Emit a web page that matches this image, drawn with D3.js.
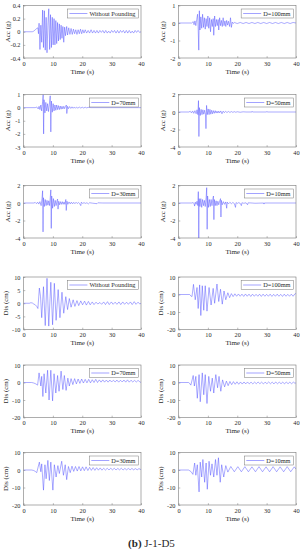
<!DOCTYPE html>
<html>
<head>
<meta charset="utf-8">
<script src="https://cdn.jsdelivr.net/npm/d3@7"></script>
<style>
  body { margin: 0; background: #fff; }
  text { font-family: "Liberation Serif", "Times New Roman", serif; fill: #2a2a2a; }
</style>
</head>
<body>
<div id="chart"></div>
<script>
// --- data: [time (s), value] vertices ---
var accWithout = [[0,0],[3.0,0],[3.5,0.01],[4.0,0.03],[4.5,0.05],[4.9,0.06],[5.1,-0.03],[5.3,0.13],[5.6,-0.27],[5.9,0.1],[6.2,-0.16],[6.5,0.33],[6.8,-0.24],[7.1,0.32],[7.4,-0.28],[7.7,0.22],[8.0,-0.32],[8.3,0.1],[8.6,0.35],[8.9,-0.27],[9.2,0.26],[9.5,-0.24],[9.8,0.22],[10.1,-0.2],[10.4,0.2],[10.7,-0.2],[11.0,0.17],[11.3,-0.18],[11.6,0.14],[11.9,-0.14],[12.2,0.12],[12.5,-0.12],[12.8,0.1],[13.1,-0.1],[13.4,0.08],[13.7,-0.16],[14.0,0.07],[14.3,-0.06],[14.7,0.08],[15.0,-0.05],[15.4,0.06],[15.8,-0.04],[16.2,0.05],[16.6,-0.04],[17.0,0.04],[17.4,-0.03],[17.8,0.03],[18.2,-0.04],[18.6,0.03],[19.0,-0.03],[19.4,0.04],[19.8,-0.03],[20.2,0.03],[20.6,-0.02],[21.0,0.03],[21.5,-0.02],[22.0,0.02],[22.5,-0.02],[23.0,0.03],[23.5,-0.02],[24.0,0.02],[24.5,-0.02],[25.0,0.02],[25.5,-0.02],[26.0,0.02],[26.5,-0.01],[27.0,0.02],[27.5,-0.02],[28.0,0.02],[28.5,-0.02],[29.0,0.01],[29.5,-0.02],[30.0,0.02],[30.5,-0.01],[31.0,0.02],[31.5,-0.02],[32.0,0.02],[32.5,-0.02],[33.0,0.02],[33.5,-0.01],[34.0,0.02],[34.5,-0.02],[35.0,0.02],[35.5,-0.02],[36.0,0.02],[36.5,-0.02],[37.0,0.01],[37.5,-0.02],[38.0,0.02],[38.5,-0.01],[39.0,0.02],[39.5,-0.01],[40.0,0]];

var accD100 = [[0,0],[4.5,0],[5.0,0.08],[5.3,-0.1],[5.6,0.12],[5.9,-0.15],[6.2,0.2],[6.5,0.5],[6.7,-0.3],[6.9,-1.55],[7.1,0.7],[7.3,-0.4],[7.6,0.35],[7.9,-0.3],[8.2,0.5],[8.5,-0.25],[8.8,0.3],[9.1,-0.35],[9.4,0.25],[9.7,-0.2],[10.0,0.4],[10.3,-0.3],[10.6,0.3],[10.9,-0.5],[11.2,0.2],[11.5,-0.2],[11.8,0.25],[12.0,-0.7],[12.3,0.4],[12.6,-0.2],[12.9,0.2],[13.2,-0.15],[13.5,0.2],[13.7,-0.4],[14.0,0.3],[14.3,-0.15],[14.6,0.15],[14.9,-0.2],[15.2,0.3],[15.5,-0.15],[15.8,0.12],[16.1,-0.2],[16.4,0.15],[16.7,-0.12],[17.0,0.1],[17.4,-0.2],[17.7,0.3],[18.0,-0.25],[18.3,0.05],[18.6,-0.03],[19.0,0.03],[20,-0.03],[21,0.03],[22,-0.03],[23,0.03],[24,-0.03],[25,0.03],[26,-0.03],[27,0.03],[28,-0.03],[29,0.03],[30,-0.03],[31,0.03],[32,-0.03],[33,0.03],[34,-0.03],[35,0.03],[36,-0.03],[37,0.03],[38,-0.03],[39,0.03],[40,0]];

var accD70 = [[0,0],[4.0,0],[4.5,0.05],[5.0,-0.1],[5.3,0.1],[5.6,-0.15],[5.9,0.2],[6.2,-0.25],[6.5,0.45],[6.7,1.0],[6.85,-2.0],[7.0,0.6],[7.3,-0.4],[7.6,0.4],[7.9,-0.25],[8.2,0.3],[8.5,-0.3],[8.8,0.25],[9.1,0.9],[9.3,-1.85],[9.5,0.5],[9.8,-0.35],[10.1,0.3],[10.4,-0.25],[10.7,0.2],[11.0,-0.2],[11.3,0.2],[11.6,-0.15],[11.9,0.15],[12.2,-0.15],[12.5,0.12],[12.8,-0.12],[13.1,0.1],[13.4,-0.1],[13.7,0.1],[14.0,-0.08],[14.3,0.1],[14.6,0.2],[14.75,-0.45],[15.0,0.1],[15.3,-0.08],[15.7,0.08],[16.1,-0.06],[16.5,0.06],[16.9,-0.05],[17.3,0.05],[17.7,-0.05],[18.1,0.04],[18.5,-0.04],[19.0,0.04],[19.5,-0.03],[20.0,0.03],[20.5,-0.03],[21.0,0.03],[21.5,-0.02],[22.0,0.02],[23,0],[40,0]];

var accD50 = [[0,0],[3.5,0],[4.0,0.08],[4.4,-0.1],[4.8,0.12],[5.2,-0.15],[5.6,0.15],[6.0,-0.2],[6.3,0.25],[6.6,-0.3],[6.8,1.3],[6.95,-2.8],[7.1,0.5],[7.4,-0.4],[7.7,0.3],[8.0,-0.3],[8.3,0.25],[8.6,-0.25],[8.9,0.2],[9.2,-0.3],[9.35,-1.9],[9.55,0.75],[9.8,-0.3],[10.1,0.35],[10.4,-0.3],[10.7,0.3],[11.0,-0.25],[11.3,0.2],[11.6,-0.2],[11.9,0.15],[12.2,-0.15],[12.5,0.15],[12.8,-0.12],[13.1,0.1],[13.4,-0.12],[13.7,0.1],[14.0,-0.1],[14.4,0.12],[14.8,-0.2],[15.2,0.1],[15.6,-0.08],[16.0,0.08],[16.5,-0.06],[17.0,0.06],[17.5,-0.05],[18.0,0.05],[18.5,-0.04],[19.0,0.04],[19.5,-0.03],[20.0,0.03],[21.0,-0.03],[22.0,0.02],[23,0],[25,0],[25.1,0.06],[25.2,0],[30,0],[30.1,0.05],[30.2,0],[40,0]];

var accD30 = [[0,0],[3.5,0],[4.0,0.06],[4.4,-0.08],[4.8,0.1],[5.2,-0.12],[5.6,0.15],[6.0,-0.3],[6.3,0.5],[6.5,1.4],[6.65,-3.3],[6.8,0.6],[7.1,-0.4],[7.4,0.4],[7.7,-0.3],[8.0,0.3],[8.3,-0.25],[8.6,0.25],[8.9,-0.3],[9.1,0.6],[9.3,1.5],[9.45,-2.9],[9.6,0.8],[9.9,-0.6],[10.2,0.5],[10.5,-0.4],[10.8,0.3],[11.1,-0.3],[11.4,0.25],[11.6,0.45],[11.75,-0.7],[12.0,0.2],[12.3,-0.2],[12.6,0.15],[12.9,-0.15],[13.2,0.15],[13.5,-0.15],[13.8,0.12],[14.1,-0.15],[14.4,0.4],[14.55,-0.85],[14.8,0.2],[15.1,-0.15],[15.5,0.12],[15.9,-0.1],[16.3,0.1],[16.7,-0.1],[17.1,0.08],[17.5,-0.08],[17.9,0.08],[18.3,-0.06],[18.7,0.06],[19.1,-0.06],[19.5,-0.3],[19.7,0.1],[20.1,-0.05],[20.6,0.04],[21.1,-0.04],[21.6,0.03],[22.1,-0.1],[22.5,0.03],[23.5,-0.02],[25.0,-0.08],[25.3,0.02],[27,0],[40,0]];

var accD10 = [[0,0],[4.5,0],[5.0,0.05],[5.3,-0.1],[5.5,-0.35],[5.7,0.1],[6.0,-0.15],[6.3,0.2],[6.6,-0.3],[6.75,1.3],[6.9,-4.0],[7.05,0.5],[7.3,-0.4],[7.6,0.5],[7.9,-0.5],[8.2,0.4],[8.5,-0.3],[8.8,0.3],[9.1,-0.4],[9.4,0.6],[9.6,1.75],[9.75,-3.0],[9.9,0.8],[10.2,-0.5],[10.5,0.4],[10.8,-0.4],[11.1,0.4],[11.4,-0.3],[11.7,0.5],[11.9,0.8],[12.05,-1.9],[12.2,0.4],[12.5,-0.3],[12.8,0.25],[13.1,-0.3],[13.4,0.2],[13.7,-0.2],[14.0,0.2],[14.3,0.5],[14.45,-1.6],[14.6,0.3],[14.9,-0.2],[15.3,0.15],[15.7,-0.15],[16.1,0.12],[16.4,-0.6],[16.6,0.1],[17.0,-0.1],[17.5,0.08],[18.0,-0.08],[18.5,0.06],[19.0,-0.06],[19.4,-0.5],[19.6,0.05],[20.0,-0.05],[20.5,0.04],[21.0,-0.04],[21.4,-0.3],[21.6,0.03],[22.2,-0.03],[23.0,0.02],[23.5,-0.2],[23.7,0.02],[25,0],[26,-0.03],[29,0],[29.1,-0.12],[29.2,0],[40,0]];

var disWithout = [[0,0],[2.0,0],[2.5,0.2],[3.0,0.1],[3.5,-0.3],[4.0,-0.6],[4.5,-1.2],[4.9,-2.0],[5.4,5.8],[5.8,2.5],[6.2,-5.5],[6.8,6.3],[7.4,-8.5],[8.0,9.5],[8.6,-8.7],[9.3,8.0],[9.9,-8.2],[10.5,7.6],[11.1,-6.5],[11.8,5.2],[12.4,-5.5],[13.1,4.2],[13.7,-3.8],[14.4,2.5],[15.0,-2.4],[15.6,1.8],[16.2,-1.5],[16.9,1.3],[17.5,-1.2],[18.2,1.0],[18.8,-0.9],[19.5,0.9],[20.1,-0.6],[20.8,0.8],[21.4,-0.7],[22.1,0.7],[22.7,-0.6],[23.4,0.5],[24.0,-0.5],[24.7,0.4],[25.3,-0.3],[26.0,0.3],[26.6,-0.4],[27.3,0.5],[27.9,-0.5],[28.6,0.6],[29.2,-0.5],[29.9,0.5],[30.5,-0.4],[31.2,0.4],[31.8,-0.4],[32.5,0.5],[33.1,-0.5],[33.8,0.5],[34.4,-0.4],[35.1,0.4],[35.7,-0.4],[36.4,0.5],[37.0,-0.5],[37.7,0.6],[38.3,-0.4],[39.0,0.4],[39.6,-0.3],[40,0]];

var disD100 = [[0,0],[3.8,0],[4.2,-0.8],[4.6,-1.2],[5.1,5.8],[5.7,-3],[6.3,4],[6.7,-8],[7.2,5.5],[7.6,-12],[8.1,5],[8.6,-9],[9.1,5],[9.7,-9.5],[10.4,4],[11.1,-6],[11.8,3.5],[12.3,-5],[13.1,6],[13.7,-4],[14.3,3],[14.9,-5.5],[15.5,2],[16.1,-3],[16.8,1],[17.4,-1.8],[18.0,0.5],[18.6,-1.2],[19.2,0.4],[19.8,-1.0],[20.4,0.3],[21.0,-1.0],[21.6,0.2],[22.2,-1.1],[22.8,0.3],[23.4,-1.0],[24.0,0.2],[24.6,-1.1],[25.2,0.2],[25.8,-1.0],[26.4,0.1],[27.0,-1.0],[27.6,0.2],[28.2,-1.1],[28.8,0.2],[29.4,-1.0],[30.0,0.1],[30.6,-1.0],[31.2,0.2],[31.8,-1.1],[32.4,0.1],[33.0,-1.0],[33.6,0.2],[34.2,-1.0],[34.8,0.1],[35.4,-1.1],[36.0,0.2],[36.6,-1.0],[37.2,0.1],[37.8,-1.0],[38.4,0.2],[39.0,-1.0],[39.6,0.3],[40,0.6]];

var disD70 = [[0,0],[2.8,0],[3.5,-0.3],[4.2,-0.8],[4.8,-1.5],[5.3,5.5],[5.9,-2],[6.2,3.5],[6.6,-8],[7.0,5],[7.6,-6],[8.2,7],[8.7,-10],[9.3,7],[9.9,-10.5],[10.4,5],[11.0,-6],[11.6,4],[12.1,-5],[12.8,6.5],[13.4,-4],[13.9,4],[14.5,-4.5],[15.1,2.5],[15.6,-2],[16.2,2.2],[16.8,-1.2],[17.4,2.2],[18.0,-0.8],[18.6,2.0],[19.2,-0.5],[19.8,2.0],[20.4,-0.3],[21.0,1.8],[21.6,-0.2],[22.2,1.8],[22.8,-0.2],[23.4,1.6],[24.0,0.0],[24.6,1.8],[25.2,0],[25.8,1.5],[26.4,0.2],[27.0,1.5],[27.6,0.2],[28.2,1.4],[28.8,0.2],[29.4,1.4],[30.0,0.3],[30.6,1.3],[31.2,0.3],[31.8,1.4],[32.4,0.2],[33.0,1.3],[33.6,0.3],[34.2,1.4],[34.8,0.2],[35.4,1.5],[36.0,0.2],[36.6,1.3],[37.2,0.3],[37.8,1.2],[38.4,0.3],[39.0,1.2],[39.6,0.4],[40,0]];

var disD50 = [[0,0],[3.4,0],[3.8,-0.5],[4.2,-1.5],[5.0,4],[5.4,-2],[5.9,3.5],[6.4,-9],[7.0,4.5],[7.4,-11],[8.1,5.5],[8.6,-7],[9.1,4.5],[9.7,-12],[10.3,3.5],[10.9,-5],[11.5,2.5],[12.0,-6],[12.7,4.5],[13.3,-3],[13.8,3.5],[14.4,-5],[15.0,1.5],[15.7,-2.5],[16.3,0.8],[16.9,-1.8],[17.5,0.6],[18.1,-1.2],[18.7,0.5],[19.3,-1.0],[19.9,0.4],[20.5,-1.0],[21.1,0.3],[21.7,-0.9],[22.3,0.3],[22.9,-0.8],[23.5,0.3],[24.1,-0.8],[24.7,0.2],[25.3,-0.8],[25.9,0.2],[26.5,-0.7],[27.1,0.3],[27.7,-0.7],[28.3,0.2],[28.9,-0.8],[29.5,0.2],[30.1,-0.7],[30.7,0.3],[31.3,-0.7],[31.9,0.2],[32.5,-0.8],[33.1,0.3],[33.7,-0.7],[34.3,0.2],[34.9,-0.7],[35.5,0.2],[36.1,-0.8],[36.7,0.3],[37.3,-0.7],[37.9,0.2],[38.5,-0.7],[39.1,0.2],[39.7,-0.5],[40,0]];

var disD30 = [[0,0],[2.8,0],[3.5,-0.3],[4.0,-0.8],[4.5,-1.5],[5.4,4.5],[5.9,-1],[6.2,3.5],[6.8,-11.5],[7.3,3],[7.7,-5],[8.3,5.5],[8.8,-6],[9.3,4.5],[10.0,-11.5],[10.5,3],[11.1,-4],[11.7,2.5],[12.2,-2],[13.0,5],[13.6,-3],[14.2,3],[14.7,-5.5],[15.3,2],[15.9,-1.5],[16.5,2.2],[17.1,-0.8],[17.7,2.0],[18.3,-0.6],[18.9,2.0],[19.5,-0.5],[20.1,1.8],[20.7,-0.4],[21.3,1.8],[21.9,-0.3],[22.5,1.5],[23.1,-0.2],[23.7,1.4],[24.3,-0.2],[24.9,1.3],[25.5,-0.1],[26.1,1.2],[26.7,-0.1],[27.3,1.0],[27.9,0],[28.5,1.0],[29.1,0],[29.7,1.0],[30.3,0.1],[30.9,1.0],[31.5,0],[32.1,0.9],[32.7,0.1],[33.3,1.0],[33.9,0],[34.5,0.9],[35.1,0.1],[35.7,0.9],[36.3,0.1],[36.9,0.9],[37.5,0.1],[38.1,0.8],[38.7,0.1],[39.3,0.8],[40,0.2]];

var disD10 = [[0,0],[3.4,0],[3.9,-0.5],[4.3,-1],[4.9,-2.5],[5.5,4],[5.9,-3],[6.4,3],[7.0,-12.5],[7.4,4.5],[7.9,-4],[8.3,6],[8.9,-7],[9.4,4],[9.8,-11],[10.4,5],[10.9,-3],[11.4,3.5],[12.0,-4],[12.6,6],[13.1,-3],[13.6,7],[14.2,-7],[14.7,3],[15.4,-4],[16.1,2.5],[16.8,-1.2],[17.8,2.0],[19.0,-1.0],[20.2,1.9],[21.4,-1.0],[22.6,1.9],[23.8,-1.0],[25.0,1.8],[26.2,-1.0],[27.4,1.9],[28.6,-1.0],[29.8,1.8],[31.0,-1.0],[32.2,1.9],[33.4,-1.0],[34.6,1.8],[35.8,-1.0],[37.0,1.9],[38.2,-1.0],[39.4,1.8],[40,0.5]];

var legendNames = ["Without Pounding", "D=100mm", "D=70mm", "D=50mm", "D=30mm", "D=10mm"];
var timeTicks = [0, 10, 20, 30, 40];
var accTicks1 = [-0.4, -0.2, 0, 0.2, 0.4];
var accTicks2 = [-2, -1, 0, 1];
var accTicks3 = [-3, -2, -1, 0, 1];
var accTicks4 = [-4, -2, 0, 2];
var disTicks1 = [-10, -5, 0, 5, 10];
var disTicks2 = [-20, -10, 0, 10];

// panel order follows the figure: row by row, left then right
var panels = [
  {data: accWithout, name: legendNames[0], ylab: "Acc (g)", ticks: accTicks1},
  {data: accD100,    name: legendNames[1], ylab: "Acc (g)", ticks: accTicks2},
  {data: accD70,     name: legendNames[2], ylab: "Acc (g)", ticks: accTicks3},
  {data: accD50,     name: legendNames[3], ylab: "Acc (g)", ticks: accTicks4},
  {data: accD30,     name: legendNames[4], ylab: "Acc (g)", ticks: accTicks4},
  {data: accD10,     name: legendNames[5], ylab: "Acc (g)", ticks: accTicks4},
  {data: disWithout, name: legendNames[0], ylab: "Dis (cm)", ticks: disTicks1},
  {data: disD100,    name: legendNames[1], ylab: "Dis (cm)", ticks: disTicks2},
  {data: disD70,     name: legendNames[2], ylab: "Dis (cm)", ticks: disTicks2},
  {data: disD50,     name: legendNames[3], ylab: "Dis (cm)", ticks: disTicks2},
  {data: disD30,     name: legendNames[4], ylab: "Dis (cm)", ticks: disTicks2},
  {data: disD10,     name: legendNames[5], ylab: "Dis (cm)", ticks: disTicks2}
];

var width = 301, height = 550;
var colX = [23.5, 178.5], plotW = 117.5, plotH = 52.5;
var rowY = [5.5, 94.5, 185.5, 277, 365, 452.5];
var serif = "'Liberation Serif', 'Times New Roman', serif";

var svg = d3.select("#chart").append("svg")
    .attr("width", width)
    .attr("height", height);

panels.forEach(function(p, i) {
  var px = colX[i % 2], py = rowY[Math.floor(i / 2)];
  var ext = d3.extent(p.ticks);

  var x = d3.scaleLinear().domain([0, 40]).range([0, plotW]);
  var y = d3.scaleLinear().domain(ext).range([plotH, 0]);

  var g = svg.append("g").attr("transform", "translate(" + px + "," + py + ")");

  g.append("clipPath").attr("id", "clip" + i)
    .append("rect").attr("width", plotW).attr("height", plotH);

  // inside ticks, MATLAB style
  var xAxis = g.append("g").attr("transform", "translate(0," + plotH + ")")
      .call(d3.axisBottom(x).tickValues(timeTicks).tickSize(-1.8).tickPadding(3.5).tickFormat(d3.format("d")));
  var yAxis = g.append("g")
      .call(d3.axisLeft(y).tickValues(p.ticks).tickSize(-1.8).tickPadding(3).tickFormat(function(d) { return d; }));

  [xAxis, yAxis].forEach(function(a) {
    a.attr("font-family", serif).attr("font-size", 6.3);
    a.select(".domain").remove();
    a.selectAll("line").attr("stroke", "#777").attr("stroke-width", 0.5);
    a.selectAll("text").attr("fill", "#2a2a2a");
  });

  g.append("path")
      .datum(p.data)
      .attr("clip-path", "url(#clip" + i + ")")
      .attr("fill", "none")
      .attr("stroke", "#4646ff")
      .attr("stroke-width", 0.45)
      .attr("d", d3.line().x(function(d) { return x(d[0]); }).y(function(d) { return y(d[1]); }));

  g.append("rect")
      .attr("width", plotW).attr("height", plotH)
      .attr("fill", "none").attr("stroke", "#777").attr("stroke-width", 0.6);

  g.append("text")
      .attr("x", plotW / 2).attr("y", plotH + 15.5)
      .attr("text-anchor", "middle")
      .style("font-size", "7px")
      .text("Time (s)");

  g.append("text")
      .attr("transform", "translate(" + (p.ylab == "Acc (g)" ? -13.5 : -15.5) + "," + (plotH / 2) + ") rotate(-90)")
      .attr("text-anchor", "middle")
      .style("font-size", "7px")
      .text(p.ylab);

  // legend box, top right
  var lg = g.append("g");
  var lt = lg.append("text")
      .attr("y", 3.5 + 6.6)
      .style("font-size", "6.3px")
      .text(p.name);
  var tw = lt.node().getComputedTextLength();
  var bw = 2 + 18 + 2 + tw + 3, bx = plotW - 2.5 - bw;
  lg.insert("rect", "text")
      .attr("x", bx).attr("y", 3.5).attr("width", bw).attr("height", 9)
      .attr("fill", "#fff").attr("stroke", "#777").attr("stroke-width", 0.5);
  lg.append("line")
      .attr("x1", bx + 2).attr("x2", bx + 20)
      .attr("y1", 8).attr("y2", 8)
      .attr("stroke", "#4646ff").attr("stroke-width", 0.5);
  lt.attr("x", bx + 22);
});

var cap = svg.append("text")
    .attr("x", width / 2 + 1).attr("y", 546.5)
    .attr("text-anchor", "middle")
    .style("font-size", "11px");
cap.append("tspan").style("font-weight", "bold").text("(b)");
cap.append("tspan").text(" J-1-D5");
</script>
</body>
</html>
